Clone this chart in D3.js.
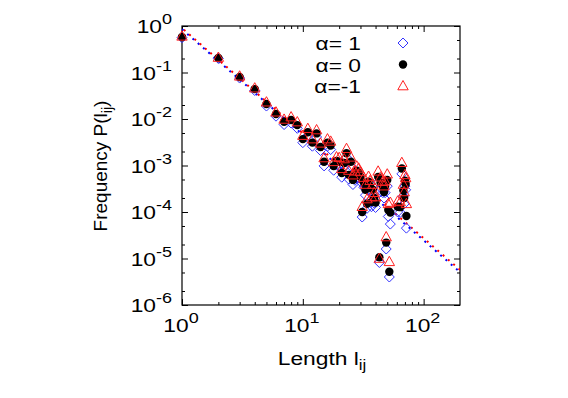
<!DOCTYPE html>
<html>
<head>
<meta charset="utf-8">
<script src="https://cdn.jsdelivr.net/npm/d3@7"></script>
<style>
body { margin: 0; background: #fff; }
text { font-family: "Liberation Sans", Arial, sans-serif; fill: #000; }
</style>
</head>
<body>
<div id="chart-area"></div>
<script>
// link lengths and their frequencies for the three alpha values
const lengths = [1,2,3,4,5,6,7,8,9,10,
    11,12,13,14,15,16,17,18,19,20,
    21,22,23,24,25,26,27,28,29,30,
    31,32,33,34,35,36,37,38,39,40,
    42,43,44,46,47,48,49,50,51,52,
    53,61,64,66,68,69,70,71,72];

const freqAlphaPlus = [0.56,0.20,0.076,0.041,0.019,0.0115,0.0076,0.0082,0.0063,0.0031,
    0.0044,0.0026,0.0041,0.0021,0.00098,0.0026,0.0022,0.00079,0.00102,0.00098,
    0.00056,0.00092,0.0015,0.00051,0.00097,0.00039,0.00048,0.00062,0.00055,0.00045,
    0.000078,0.00034,0.00023,0.00012,0.00035,0.00028,0.00013,0.00023,0.000155,0.000125,
    0.00044,0.0000082,0.00033,0.00026,0.0002,0.00026,0.000016,0.00036,0.00008,0.000004,
    0.000055,0.0001,0.000098,0.00066,0.00022,0.00015,0.00036,0.0003,0.000045];

const freqAlphaZero = [0.58,0.205,0.080,0.044,0.021,0.0128,0.0087,0.0095,0.0074,0.0037,
    0.0052,0.0031,0.0049,0.0025,0.0012,0.0031,0.0027,0.00097,0.00125,0.0012,
    0.00069,0.00113,0.00183,0.00063,0.0012,0.00049,0.0006,0.00077,0.00069,0.00057,
    0.0001,0.00043,0.0003,0.00015,0.00045,0.00036,0.000165,0.0003,0.0002,0.00016,
    0.00057,0.0000106,0.00043,0.000345,0.00027,0.00035,0.000022,0.00049,0.00011,0.0000052,
    0.000097,0.00013,0.000127,0.00086,0.00029,0.0002,0.00047,0.0004,0.000082];

const freqAlphaMinus = [0.60,0.21,0.083,0.046,0.023,0.014,0.0098,0.011,0.0086,0.0044,
    0.0062,0.0037,0.0058,0.003,0.00145,0.0037,0.0033,0.0012,0.00152,0.00147,
    0.00085,0.00138,0.0023,0.00078,0.0015,0.00062,0.00075,0.00096,0.00087,0.00073,
    0.00013,0.00055,0.00039,0.00019,0.00058,0.00047,0.00021,0.00039,0.00026,0.00021,
    0.00075,0.00001,0.00056,0.00045,0.00036,0.00046,0.000029,0.00065,0.00015,0.0000085,
    0.00016,0.00017,0.000165,0.00115,0.00039,0.00027,0.00063,0.00054,0.00015];

// power-law fits (straight on log-log), given by their end points
const fitX = [1, 200];
const fitPlusY = [0.85, 0.0000051];
const fitMinusY = [0.90, 0.0000057];

const xMajor = [1, 10, 100];
const xMinor = [2,3,4,5,6,7,8,9,20,30,40,50,60,70,80,90];
const yMajor = [1, 1e-1, 1e-2, 1e-3, 1e-4, 1e-5, 1e-6];
const yMinor = [0.5,0.2,0.05,0.02,5e-3,2e-3,5e-4,2e-4,5e-5,2e-5,5e-6,2e-6];
const legendLabels = ["α= 1", "α= 0", "α=-1"];

const MARGIN = { LEFT: 182, TOP: 26 };
const WIDTH = 278;
const HEIGHT = 279;
const STRETCH = 1.2; // the original lettering is wider than Liberation Sans

const svg = d3.select("#chart-area").append("svg")
    .attr("width", 568)
    .attr("height", 398);

const g = svg.append("g")
    .attr("transform", `translate(${MARGIN.LEFT}, ${MARGIN.TOP})`);

const x = d3.scaleLog().domain([1, 200]).range([0, WIDTH]);
const y = d3.scaleLog().domain([1e-6, 1]).range([HEIGHT, 0]);

// ticks on all four sides, pointing inward
function ticks(axis, vals, size, transform) {
    const a = g.append("g")
        .attr("transform", transform)
        .call(axis.tickValues(vals).tickSize(size).tickSizeOuter(0).tickFormat(""));
    a.select(".domain").remove();
    a.selectAll("line").attr("stroke", "#000");
}
ticks(d3.axisBottom(x), xMajor, -6, `translate(0, ${HEIGHT})`);
ticks(d3.axisBottom(x), xMinor, -3, `translate(0, ${HEIGHT})`);
ticks(d3.axisTop(x), xMajor, -6, "translate(0, 0)");
ticks(d3.axisTop(x), xMinor, -3, "translate(0, 0)");
ticks(d3.axisLeft(y), yMajor, -6, "translate(0, 0)");
ticks(d3.axisLeft(y), yMinor, -3, "translate(0, 0)");
ticks(d3.axisRight(y), yMajor, -6, `translate(${WIDTH}, 0)`);
ticks(d3.axisRight(y), yMinor, -3, `translate(${WIDTH}, 0)`);

g.append("rect")
    .attr("width", WIDTH)
    .attr("height", HEIGHT)
    .attr("fill", "none")
    .attr("stroke", "#000")
    .attr("stroke-width", 1.2);

function powLabel(sel, v) {
    sel.append("tspan").text("10");
    sel.append("tspan").attr("dy", -9).attr("font-size", 15).text(Math.round(Math.log10(v)));
}

g.selectAll(".xlab").data(xMajor).enter().append("text")
    .attr("class", "xlab")
    .attr("transform", d => `translate(${x(d) - 1}, ${HEIGHT + 27}) scale(${STRETCH}, 1)`)
    .attr("text-anchor", "middle")
    .attr("font-size", 19)
    .each(function(d) { powLabel(d3.select(this), d); });

g.selectAll(".ylab").data(yMajor).enter().append("text")
    .attr("class", "ylab")
    .attr("transform", d => `translate(-10, ${y(d) + 7}) scale(${STRETCH}, 1)`)
    .attr("text-anchor", "end")
    .attr("font-size", 19)
    .each(function(d) { powLabel(d3.select(this), d); });

// axis titles
const xt = svg.append("text")
    .attr("transform", `translate(322, 365) scale(${STRETCH}, 1)`)
    .attr("text-anchor", "middle")
    .attr("font-size", 19);
xt.append("tspan").text("Length l");
xt.append("tspan").attr("dy", 5).attr("font-size", 14).text("ij");

const yt = svg.append("text")
    .attr("transform", "translate(107, 166) rotate(-90)")
    .attr("text-anchor", "middle")
    .attr("font-size", 19);
yt.append("tspan").text("Frequency P(l");
yt.append("tspan").attr("dy", 5).attr("font-size", 14).text("ij");
yt.append("tspan").attr("dy", -5).text(")");

// fitted lines
svg.append("clipPath").attr("id", "clip")
    .append("rect").attr("width", WIDTH).attr("height", HEIGHT);

const line = d3.line().x(d => x(d[0])).y(d => y(d[1]));
const fits = g.append("g").attr("clip-path", "url(#clip)");
fits.append("path")
    .attr("d", line(d3.zip(fitX, fitPlusY)))
    .attr("fill", "none")
    .attr("stroke", "#0000ff")
    .attr("stroke-width", 2)
    .attr("stroke-dasharray", "2,5");
fits.append("path")
    .attr("d", line(d3.zip(fitX, fitMinusY)))
    .attr("fill", "none")
    .attr("stroke", "#ff0000")
    .attr("stroke-width", 2)
    .attr("stroke-dasharray", "2,5")
    .attr("stroke-dashoffset", -2.5);

// markers
const diamond = (cx, cy) => `M${cx},${cy - 5}L${cx + 5},${cy}L${cx},${cy + 5}L${cx - 5},${cy}Z`;
const triangle = (cx, cy) => `M${cx},${cy - 5.5}L${cx + 5.2},${cy + 3.8}L${cx - 5.2},${cy + 3.8}Z`;

g.selectAll(".dia").data(d3.zip(lengths, freqAlphaPlus)).enter().append("path")
    .attr("class", "dia")
    .attr("d", d => diamond(x(d[0]), y(d[1])))
    .attr("fill", "none")
    .attr("stroke", "#3333ff")
    .attr("stroke-width", 1);

g.selectAll(".dot").data(d3.zip(lengths, freqAlphaZero)).enter().append("circle")
    .attr("class", "dot")
    .attr("cx", d => x(d[0]))
    .attr("cy", d => y(d[1]))
    .attr("r", 4.2)
    .attr("fill", "#000");

g.selectAll(".tri").data(d3.zip(lengths, freqAlphaMinus)).enter().append("path")
    .attr("class", "tri")
    .attr("d", d => triangle(x(d[0]), y(d[1])))
    .attr("fill", "none")
    .attr("stroke", "#ff2020")
    .attr("stroke-width", 1);

// legend
const legend = svg.append("g");
legendLabels.forEach((t, i) => {
    const ly = 43 + i * 21.5;
    legend.append("text")
        .attr("transform", `translate(361, ${ly + 7}) scale(${STRETCH}, 1)`)
        .attr("text-anchor", "end")
        .attr("font-size", 19)
        .text(t);
    if (i === 0) {
        legend.append("path").attr("d", diamond(403, ly))
            .attr("fill", "none").attr("stroke", "#3333ff");
    } else if (i === 1) {
        legend.append("circle").attr("cx", 403).attr("cy", ly).attr("r", 4.2).attr("fill", "#000");
    } else {
        legend.append("path").attr("d", triangle(403, ly))
            .attr("fill", "none").attr("stroke", "#ff2020");
    }
});
</script>
</body>
</html>
